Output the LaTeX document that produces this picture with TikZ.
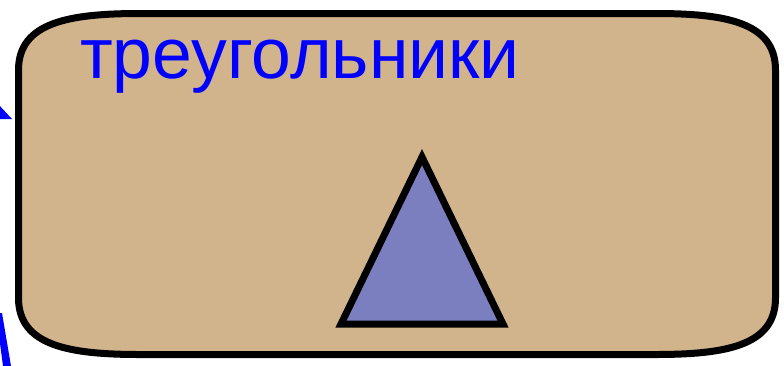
\documentclass[tikz,border=0pt]{standalone}
\usepackage{fontspec}
\setmainfont{Liberation Sans}
\definecolor{boxfill}{HTML}{D2B48C}
\definecolor{trifill}{HTML}{7B7FC0}
\begin{document}
\begin{tikzpicture}[x=1pt,y=-1pt,
  outline/.style={draw=black,line width=7pt,line join=round},
  blueshape/.style={fill=blue,draw=none}]
\useasboundingbox (0,0) rectangle (784,365);
% partial blue arrows at the left edge
\fill[blue] (-2,104) -- (12,119) -- (-2,119) -- cycle;
\fill[blue] (-4,313) -- (2,313) -- (11,366) -- (3,366) -- cycle;
% rounded box
\draw[outline,fill=boxfill] (18.5,70) .. controls (18.5,22) and (70,13.5) .. (140,13.5)
  -- (655,13.5) .. controls (725,13.5) and (775.5,22) .. (775.5,70)
  -- (775.5,298) .. controls (775.5,346) and (725,354.5) .. (655,354.5)
  -- (140,354.5) .. controls (70,354.5) and (18.5,346) .. (18.5,298) -- cycle;
\node[anchor=base west,inner sep=0pt,text=blue,font=\fontsize{71.5}{80}\selectfont] (title) at (80,78) {треугольники};
\coordinate (A) at (422,157);
\coordinate (B) at (341,324);
\coordinate (C) at (503,324);
\draw[outline,fill=trifill,line join=miter] (A) -- (B) -- (C) -- cycle;
\end{tikzpicture}
\end{document}
